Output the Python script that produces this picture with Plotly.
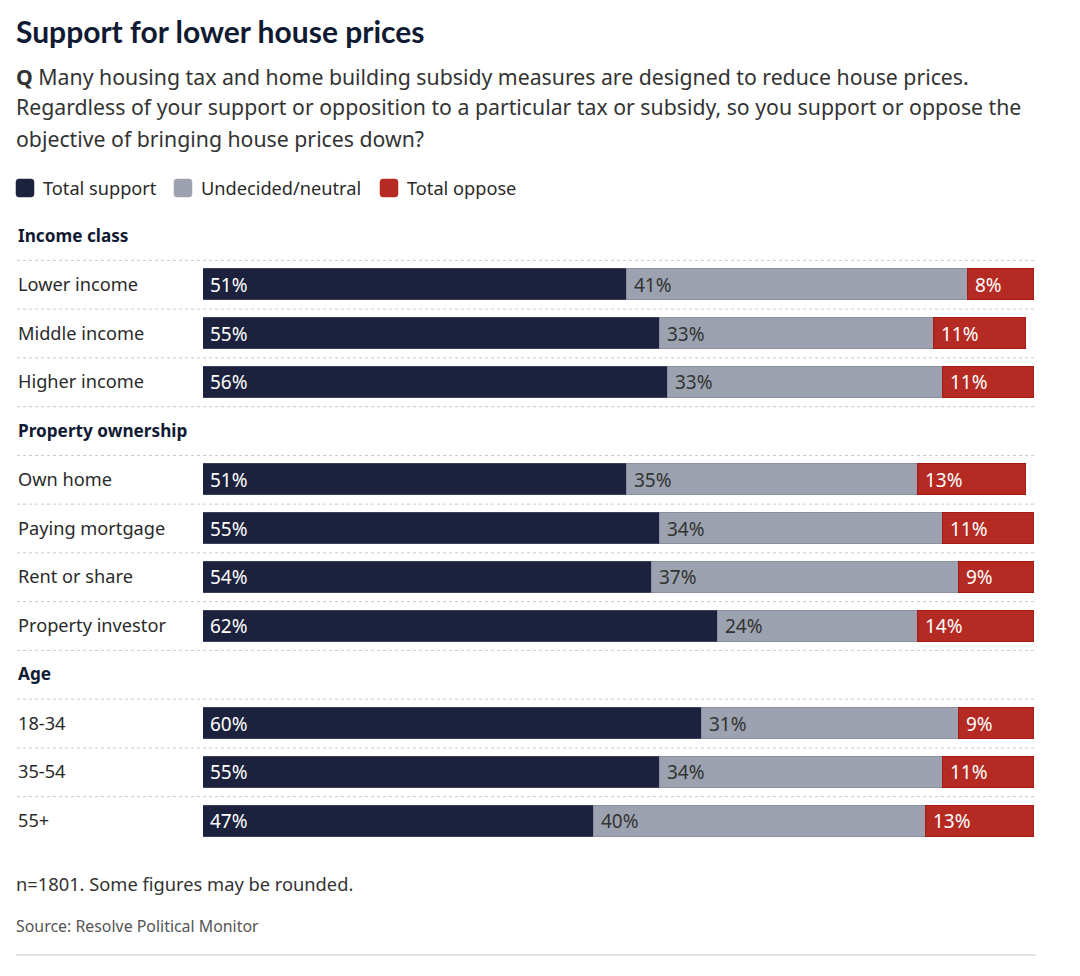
import plotly.graph_objects as go

# ---- data ----
groups = ["Income class", "Property ownership", "Age"]
categories = [
    ["Lower income", "Middle income", "Higher income"],
    ["Own home", "Paying mortgage", "Rent or share", "Property investor"],
    ["18-34", "35-54", "55+"],
]
support = [51, 55, 56, 51, 55, 54, 62, 60, 55, 47]
neutral = [41, 33, 33, 35, 34, 37, 24, 31, 34, 40]
oppose = [8, 11, 11, 13, 11, 9, 14, 9, 11, 13]
series_names = ["Total support", "Undecided/neutral", "Total oppose"]

title = "Support for lower house prices"
subtitle_lines = [
    "<b>Q</b> Many housing tax and home building subsidy measures are designed to reduce house prices.",
    "Regardless of your support or opposition to a particular tax or subsidy, so you support or oppose the",
    "objective of bringing house prices down?",
]
note = "n=1801. Some figures may be rounded."
source = "Source: Resolve Political Monitor"

# ---- style ----
FONT = "Noto Sans"
TFONT = "Lato"
W, H = 1080, 976
C_SUP, C_NEU, C_OPP = "#1c223d", "#9ca2af", "#b52a23"
L_SUP, L_NEU, L_OPP = "#3b4262", "#8a909e", "#a61b15"
TXT = "#2a2a2a"
NAVY = "#111a33"

PITCH = 48.75
Y0 = 236  # pixel centre of first row

rows = []
di = 0
for g, cats in zip(groups, categories):
    rows.append(("head", g, None))
    for c in cats:
        rows.append(("data", c, di))
        di += 1

data_y = [i for i, r in enumerate(rows) if r[0] == "data"]

fig = go.Figure()
for name, vals, col, lc in [
    (series_names[0], support, C_SUP, L_SUP),
    (series_names[1], neutral, C_NEU, L_NEU),
    (series_names[2], oppose, C_OPP, L_OPP),
]:
    fig.add_trace(go.Bar(
        x=vals, y=data_y, orientation="h", name=name,
        marker=dict(color=col, line=dict(color=lc, width=1)),
        width=31 / PITCH, showlegend=False, hoverinfo="skip",
    ))

ann = []
shapes = []

for k, yi in enumerate(data_y):
    starts = [0, support[k], support[k] + neutral[k]]
    vals = [support[k], neutral[k], oppose[k]]
    cols = ["white", "#333333", "white"]
    for s, v, c in zip(starts, vals, cols):
        ann.append(dict(x=s, y=yi, xref="x", yref="y", text=f"{v}%",
                        showarrow=False, xanchor="left", yanchor="middle",
                        xshift=5, font=dict(family=FONT, size=19, color=c)))

for i, (kind, label, _) in enumerate(rows):
    if kind == "head":
        ann.append(dict(x=16 / W, y=i, xref="paper", yref="y", text=f"<b>{label}</b>",
                        showarrow=False, xanchor="left", yanchor="middle", yshift=1,
                        font=dict(family=FONT, size=17.2, color=NAVY)))
    else:
        ann.append(dict(x=16 / W, y=i, xref="paper", yref="y", text=label,
                        showarrow=False, xanchor="left", yanchor="middle", yshift=1,
                        font=dict(family=FONT, size=18.2, color=TXT)))

for i in range(len(rows) - 1):
    shapes.append(dict(type="line", xref="paper", yref="y", x0=17 / W, x1=1034 / W,
                       y0=i + 0.5, y1=i + 0.5,
                       line=dict(color="#c8c8c8", width=1, dash="dot"), layer="below"))

def pyp(px):
    return 1 - px / H

ann.append(dict(x=14 / W, y=pyp(31), xref="paper", yref="paper", text=f"<b>{title}</b>",
                showarrow=False, xanchor="left", yanchor="middle",
                font=dict(family=TFONT, size=30, color=NAVY)))
for j, line in enumerate(subtitle_lines):
    ann.append(dict(x=14 / W, y=pyp(76 + 31 * j), xref="paper", yref="paper", text=line,
                    showarrow=False, xanchor="left", yanchor="middle",
                    font=dict(family=FONT, size=21.25, color="#333333")))

def rounded_rect(px0, py0, px1, py1, r):
    # path in paper coordinates built from pixel corners
    X = lambda v: v / W
    Y = lambda v: 1 - v / H
    return (f"M {X(px0 + r)} {Y(py0)} L {X(px1 - r)} {Y(py0)} "
            f"Q {X(px1)} {Y(py0)} {X(px1)} {Y(py0 + r)} L {X(px1)} {Y(py1 - r)} "
            f"Q {X(px1)} {Y(py1)} {X(px1 - r)} {Y(py1)} L {X(px0 + r)} {Y(py1)} "
            f"Q {X(px0)} {Y(py1)} {X(px0)} {Y(py1 - r)} L {X(px0)} {Y(py0 + r)} "
            f"Q {X(px0)} {Y(py0)} {X(px0 + r)} {Y(py0)} Z")

leg_x = [16, 174, 380]
for name, col, x in zip(series_names, [C_SUP, C_NEU, C_OPP], leg_x):
    shapes.append(dict(type="path", xref="paper", yref="paper",
                       path=rounded_rect(x, 179, x + 18, 197, 3),
                       fillcolor=col, line=dict(color=col, width=0.5)))
    ann.append(dict(x=(x + 25) / W, y=pyp(188), xref="paper", yref="paper", text=name,
                    showarrow=False, xanchor="left", yanchor="middle",
                    font=dict(family=FONT, size=18.2, color=TXT)))

ann.append(dict(x=14 / W, y=pyp(883), xref="paper", yref="paper", text=note,
                showarrow=False, xanchor="left", yanchor="middle",
                font=dict(family=FONT, size=18.3, color="#333333")))
ann.append(dict(x=14 / W, y=pyp(926), xref="paper", yref="paper", text=source,
                showarrow=False, xanchor="left", yanchor="middle",
                font=dict(family=FONT, size=15.9, color="#555555")))
shapes.append(dict(type="line", xref="paper", yref="paper", x0=16 / W, x1=1036 / W,
                   y0=pyp(955), y1=pyp(955), line=dict(color="#e2e2e6", width=2)))

y_top = (0 - Y0) / PITCH
y_bot = (H - Y0) / PITCH

fig.update_layout(
    width=W, height=H, barmode="stack",
    margin=dict(l=0, r=0, t=0, b=0),
    paper_bgcolor="white", plot_bgcolor="white",
    xaxis=dict(range=[0, 100], domain=[203 / W, 1034 / W], visible=False, fixedrange=True),
    yaxis=dict(range=[y_bot, y_top], visible=False, fixedrange=True),
    annotations=ann, shapes=shapes, bargap=0,
    font=dict(family=FONT),
)

fig.write_html("out.html", config={"displayModeBar": False})
